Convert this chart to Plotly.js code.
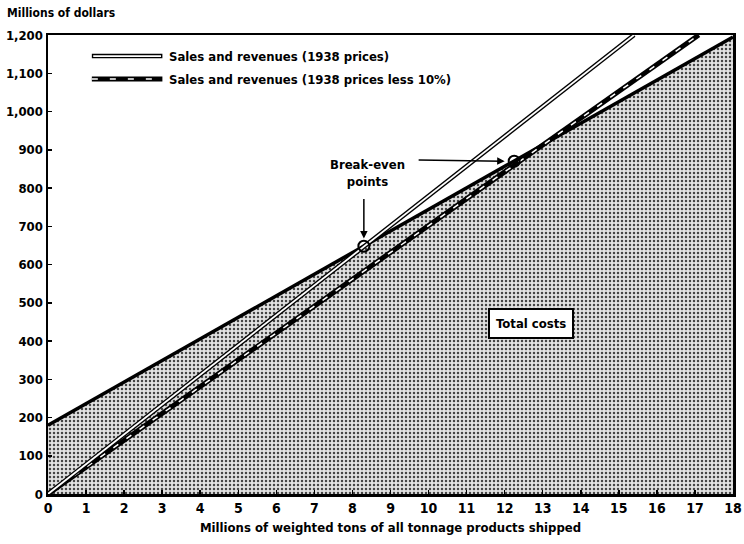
<!DOCTYPE html>
<html>
<head>
<meta charset="utf-8">
<script src="https://cdn.plot.ly/plotly-3.0.1.min.js"></script>
<style>html,body{margin:0;padding:0;background:#fff;}#chart{width:744px;height:544px;}</style>
</head>
<body>
<div id="chart"></div>
<script>
// Data
const costX = [0, 18];
const costY = [180, 1195];
const sales1938X = [0, 15.4];
const sales1938Y = [0, 1200];
const salesLessX = [0, 17.1];
const salesLessY = [0, 1200];
const breakEvenX = [8.3, 12.25];
const breakEvenY = [648, 870];
const xTicks = [0,1,2,3,4,5,6,7,8,9,10,11,12,13,14,15,16,17,18];
const yTicks = [0,100,200,300,400,500,600,700,800,900,1000,1100,1200];

const FONT = 'DejaVu Sans Condensed, DejaVu Sans, sans-serif';

const traces = [
  {x: costX, y: costY, mode: 'lines', fill: 'tozeroy',
   fillcolor: 'rgba(0,0,0,0)',
   fillpattern: {shape: '.', fgcolor: '#444', bgcolor: '#e2e2e2', size: 4, solidity: 0.3},
   line: {color: '#000', width: 3.5}, showlegend: false, hoverinfo: 'skip'},
  {x: salesLessX, y: salesLessY, mode: 'lines', line: {color: '#000', width: 5}, showlegend: false},
  {x: salesLessX, y: salesLessY, mode: 'lines', line: {color: '#fff', width: 1.5, dash: '6px,10px'}, showlegend: false},
  {x: sales1938X, y: sales1938Y, mode: 'lines', line: {color: '#000', width: 4.5}, showlegend: false},
  {x: sales1938X, y: sales1938Y, mode: 'lines', line: {color: '#fff', width: 1.8}, showlegend: false},
  {x: breakEvenX, y: breakEvenY, mode: 'markers',
   marker: {symbol: 'circle-open', size: 11, color: '#000', line: {width: 2, color: '#000'}}, showlegend: false}
];

const layout = {
  width: 744, height: 544,
  margin: {l: 48, r: 11, t: 35, b: 50},
  paper_bgcolor: '#fff', plot_bgcolor: '#fff',
  font: {family: FONT, color: '#000', size: 13},
  showlegend: false,
  xaxis: {
    range: [0, 18], tickvals: xTicks, ticks: 'inside', ticklen: 4, tickwidth: 1.5, tickcolor: '#000',
    ticklabeloverflow: 'allow',
    showgrid: false, zeroline: false, showline: true, linecolor: '#000', linewidth: 2.5, mirror: true,
    tickfont: {family: FONT, size: 14, color: '#000', weight: 'bold'},
    title: {text: 'Millions of weighted tons of all tonnage products shipped', standoff: 8,
            font: {family: FONT, size: 13, color: '#000', weight: 'bold'}}
  },
  yaxis: {
    range: [0, 1200], tickvals: yTicks, tickformat: ',', ticks: 'inside', ticklen: 4, tickwidth: 1.5, tickcolor: '#000',
    ticklabeloverflow: 'allow',
    showgrid: false, zeroline: false, showline: true, linecolor: '#000', linewidth: 2.5, mirror: true,
    tickfont: {family: FONT, size: 13, color: '#000', weight: 'bold'}
  },
  shapes: [
    {type: 'line', xref: 'paper', yref: 'paper', x0: 0.064, x1: 0.167, y0: 0.954, y1: 0.954, line: {color: '#000', width: 4.5}},
    {type: 'line', xref: 'paper', yref: 'paper', x0: 0.066, x1: 0.165, y0: 0.954, y1: 0.954, line: {color: '#fff', width: 1.8}},
    {type: 'line', xref: 'paper', yref: 'paper', x0: 0.064, x1: 0.167, y0: 0.904, y1: 0.904, line: {color: '#000', width: 5}},
    {type: 'line', xref: 'paper', yref: 'paper', x0: 0.064, x1: 0.167, y0: 0.904, y1: 0.904, line: {color: '#fff', width: 1.5, dash: '6px,12px'}}
  ],
  annotations: [
    {xref: 'paper', yref: 'paper', x: 0.174, y: 0.954, xanchor: 'left', yanchor: 'middle', showarrow: false,
     text: 'Sales and revenues (1938 prices)', font: {family: FONT, size: 13, weight: 'bold'}},
    {xref: 'paper', yref: 'paper', x: 0.174, y: 0.904, xanchor: 'left', yanchor: 'middle', showarrow: false,
     text: 'Sales and revenues (1938 prices less 10%)', font: {family: FONT, size: 13, weight: 'bold'}},
    {xref: 'paper', yref: 'paper', x: -0.063, y: 1.048, xanchor: 'left', yanchor: 'middle', showarrow: false,
     text: 'Millions of dollars', font: {family: FONT, size: 12, weight: 'bold'}},
    {x: 8.4, y: 838, xref: 'x', yref: 'y', showarrow: false, align: 'center',
     text: 'Break-even<br>points', font: {family: FONT, size: 13, weight: 'bold'}},
    {x: 8.3, y: 668, ax: 8.3, ay: 775, xref: 'x', yref: 'y', axref: 'x', ayref: 'y', text: '',
     showarrow: true, arrowhead: 2, arrowsize: 1, arrowwidth: 1.5, arrowcolor: '#000'},
    {x: 12.0, y: 870, ax: 9.7, ay: 873, xref: 'x', yref: 'y', axref: 'x', ayref: 'y', text: '',
     showarrow: true, arrowhead: 2, arrowsize: 1, arrowwidth: 1.5, arrowcolor: '#000'},
    {x: 12.7, y: 447, xref: 'x', yref: 'y', showarrow: false, text: 'Total costs',
     bgcolor: '#fff', bordercolor: '#000', borderwidth: 2, borderpad: 6,
     font: {family: FONT, size: 13, weight: 'bold'}}
  ]
};

Plotly.newPlot('chart', traces, layout, {staticPlot: true, displayModeBar: false});
</script>
</body>
</html>
